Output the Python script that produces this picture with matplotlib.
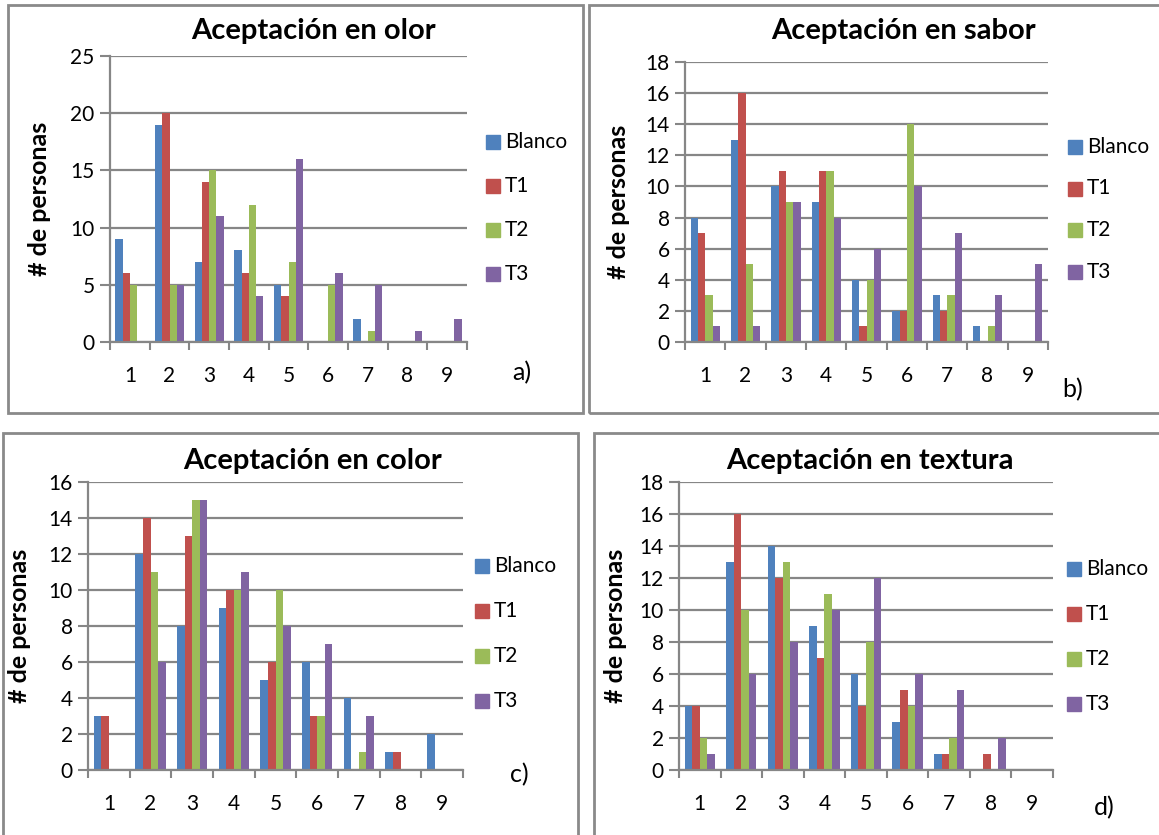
import matplotlib
matplotlib.use("Agg")
import matplotlib.pyplot as plt
from matplotlib.patches import Rectangle
import numpy as np

plt.rcParams['font.family'] = ['Lato', 'DejaVu Sans']

W, H = 1159, 835

# ---- data ----
categorias = [1, 2, 3, 4, 5, 6, 7, 8, 9]
series = ['Blanco', 'T1', 'T2', 'T3']
colores = ['#4F81BD', '#C0504D', '#9BBB59', '#8064A2']

olor_blanco = [9, 19, 7, 8, 5, 0, 2, 0, 0]
olor_t1 = [6, 20, 14, 6, 4, 0, 0, 0, 0]
olor_t2 = [5, 5, 15, 12, 7, 5, 1, 0, 0]
olor_t3 = [0, 5, 11, 4, 16, 6, 5, 1, 2]

sabor_blanco = [8, 13, 10, 9, 4, 2, 3, 1, 0]
sabor_t1 = [7, 16, 11, 11, 1, 2, 2, 0, 0]
sabor_t2 = [3, 5, 9, 11, 4, 14, 3, 1, 0]
sabor_t3 = [1, 1, 9, 8, 6, 10, 7, 3, 5]

color_blanco = [3, 12, 8, 9, 5, 6, 4, 1, 2]
color_t1 = [3, 14, 13, 10, 6, 3, 0, 1, 0]
color_t2 = [0, 11, 15, 10, 10, 3, 1, 0, 0]
color_t3 = [0, 6, 15, 11, 8, 7, 3, 0, 0]

textura_blanco = [4, 13, 14, 9, 6, 3, 1, 0, 0]
textura_t1 = [4, 16, 12, 7, 4, 5, 1, 1, 0]
textura_t2 = [2, 10, 13, 11, 8, 4, 2, 0, 0]
textura_t3 = [1, 6, 8, 10, 12, 6, 5, 2, 0]

gris = '#868686'


def rect(x0, y0, x1, y1):
    return [x0 / W, 1 - y1 / H, (x1 - x0) / W, (y1 - y0) / H]


def panel(fig, box, ax_px, datos, ymax, ystep, titulo, title_xy,
          leg_xy, leg_dy, letra, letra_xy, ylab_x):
    # marco del panel
    bx0, by0, bx1, by1 = box
    fig.patches.append(Rectangle((bx0 / W, 1 - by1 / H), (bx1 - bx0) / W, (by1 - by0) / H,
                                 transform=fig.transFigure, fill=False,
                                 edgecolor='#8a8a8a', lw=2, zorder=0))
    ax = fig.add_axes(rect(*ax_px))
    x = np.array(categorias)
    bw = 1 / 5.5
    for i, (vals, c) in enumerate(zip(datos, colores)):
        ax.bar(x + (i - 1.5) * bw, vals, width=bw, color=c, zorder=3,
               edgecolor='none', label=series[i])
    ax.set_xlim(0.5, 9.5)
    ax.set_ylim(0, ymax)
    ax.set_yticks(np.arange(0, ymax + 1, ystep))
    ax.set_xticks(categorias)
    ax.set_xticks(np.arange(0.5, 10, 1), minor=True)
    ax.tick_params(axis='x', which='major', length=0, pad=17, labelsize=15)
    ax.tick_params(axis='x', which='minor', length=6, width=1.5, color=gris, direction='out')
    ax.tick_params(axis='y', length=7, width=1.5, color=gris, labelsize=15, pad=4)
    ax.yaxis.grid(True, color=gris, lw=1.6, zorder=1)
    ax.set_axisbelow(True)
    for s in ['top', 'right']:
        ax.spines[s].set_visible(False)
    for s in ['left', 'bottom']:
        ax.spines[s].set_color(gris)
        ax.spines[s].set_linewidth(1.6)
    ax.spines['bottom'].set_zorder(4)

    fig.text(title_xy[0] / W, 1 - title_xy[1] / H, titulo, fontsize=21,
             fontweight='bold', ha='center', va='center')
    fig.text(ylab_x / W, 1 - (ax_px[1] + ax_px[3]) / 2 / H, '# de personas',
             fontsize=18, fontweight='bold', rotation=90, ha='center', va='center')
    lx, ly = leg_xy
    for i, (nom, c) in enumerate(zip(series, colores)):
        yy = ly + i * leg_dy
        fig.patches.append(Rectangle((lx / W, 1 - (yy + 7) / H), 14 / W, 14 / H,
                                     transform=fig.transFigure, color=c))
        fig.text((lx + 19) / W, 1 - yy / H, nom, fontsize=15, ha='left', va='center')
    fig.text(letra_xy[0] / W, 1 - letra_xy[1] / H, letra, fontsize=18,
             ha='left', va='center')
    return ax


fig = plt.figure(figsize=(W / 100, H / 100), dpi=100)
fig.patch.set_facecolor('white')

panel(fig, (8, 5, 583, 413), (110, 56, 467, 342),
      [olor_blanco, olor_t1, olor_t2, olor_t3], 25, 5,
      'Aceptación en olor', (313, 31), (486, 142), 44, 'a)', (512, 373), 40)

panel(fig, (589, 5, 1170, 413), (685, 62, 1048, 342),
      [sabor_blanco, sabor_t1, sabor_t2, sabor_t3], 18, 2,
      'Aceptación en sabor', (903, 31), (1068, 147), 41.5, 'b)', (1062, 390), 618)

panel(fig, (3, 433, 578, 845), (88, 482, 463, 770),
      [color_blanco, color_t1, color_t2, color_t3], 16, 2,
      'Aceptación en color', (313, 461), (475, 566), 45, 'c)', (510, 775), 20)

panel(fig, (594, 433, 1170, 845), (679, 482, 1053, 770),
      [textura_blanco, textura_t1, textura_t2, textura_t3], 18, 2,
      'Aceptación en textura', (870, 461), (1067, 569), 45, 'd)', (1094, 808), 615)

fig.savefig('out.png', dpi=100)
